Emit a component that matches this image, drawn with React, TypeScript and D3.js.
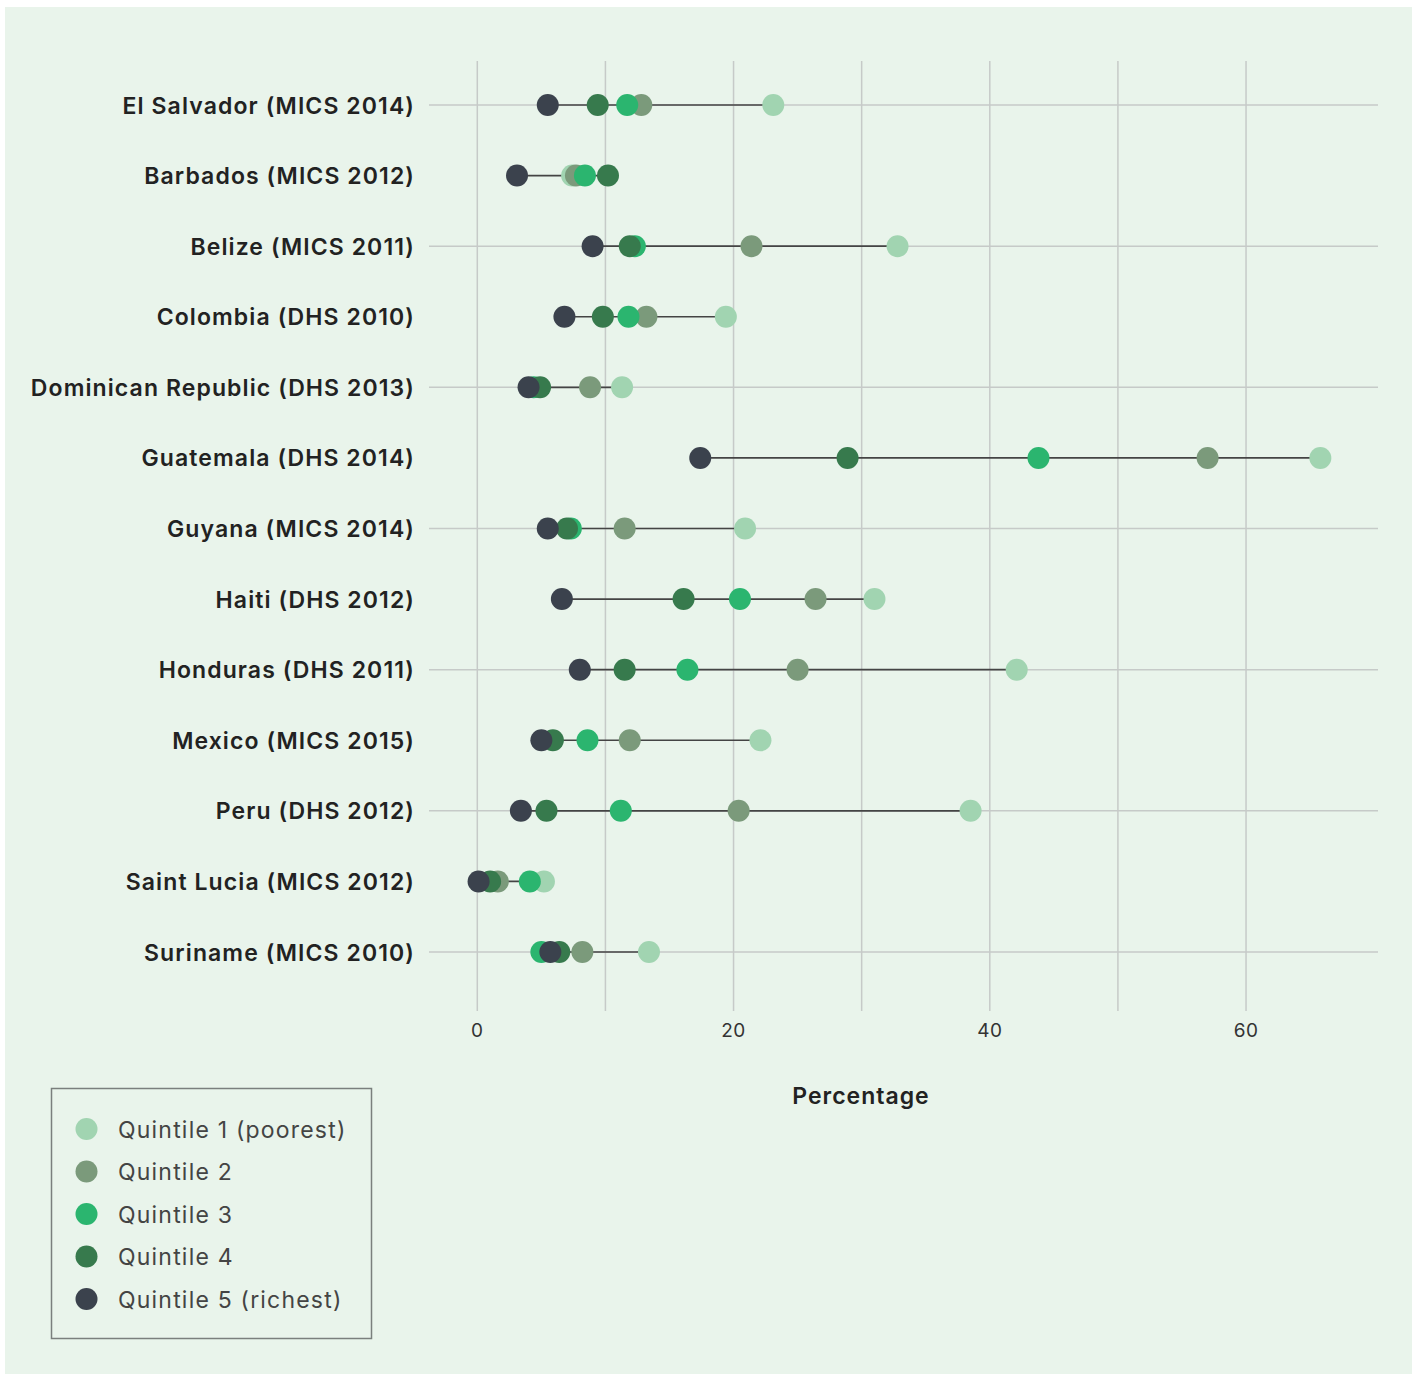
import React from "react";
import * as d3 from "d3";

const countries = [
  "El Salvador (MICS 2014)",
  "Barbados (MICS 2012)",
  "Belize (MICS 2011)",
  "Colombia (DHS 2010)",
  "Dominican Republic (DHS 2013)",
  "Guatemala (DHS 2014)",
  "Guyana (MICS 2014)",
  "Haiti (DHS 2012)",
  "Honduras (DHS 2011)",
  "Mexico (MICS 2015)",
  "Peru (DHS 2012)",
  "Saint Lucia (MICS 2012)",
  "Suriname (MICS 2010)",
];

const quintileNames = [
  "Quintile 1 (poorest)",
  "Quintile 2",
  "Quintile 3",
  "Quintile 4",
  "Quintile 5 (richest)",
];

const quintileColors = ["#a1d4b1", "#7b9a7b", "#2bb56f", "#377a4d", "#3b424d"];

const q1 = [23.1, 7.4, 32.8, 19.4, 11.3, 65.8, 20.9, 31.0, 42.1, 22.1, 38.5, 5.2, 13.4];
const q2 = [12.8, 7.7, 21.4, 13.2, 8.8, 57.0, 11.5, 26.4, 25.0, 11.9, 20.4, 1.6, 8.2];
const q3 = [11.7, 8.4, 12.3, 11.8, 4.4, 43.8, 7.3, 20.5, 16.4, 8.6, 11.2, 4.1, 5.0];
const q4 = [9.4, 10.2, 11.9, 9.8, 4.9, 28.9, 7.0, 16.1, 11.5, 5.9, 5.4, 1.0, 6.4];
const q5 = [5.5, 3.1, 9.0, 6.8, 4.0, 17.4, 5.5, 6.6, 8.0, 5.0, 3.4, 0.1, 5.7];

const xTicks = [0, 20, 40, 60];
const xGrid = [0, 10, 20, 30, 40, 50, 60];
const xTitle = "Percentage";

const series = [q1, q2, q3, q4, q5];

export default function App() {
  const W = 1416;
  const H = 1374;
  const x = d3.scaleLinear().domain([-3.77, 70.3]).range([429, 1378]);
  const y = d3.scalePoint<string>().domain(countries).range([105, 952]);
  const font = "Inter, 'Noto Sans', sans-serif";
  const r = 11;

  return (
    <svg
      width={W}
      height={H}
      style={{ position: "absolute", left: 0, top: 0, display: "block", background: "#ffffff" }}
    >
      <rect x={5} y={7} width={1407} height={1367} fill="#e9f4eb" />
      {xGrid.map((t) => (
        <line key={"vg" + t} x1={x(t)} x2={x(t)} y1={61} y2={1011} stroke="#c6cac8" strokeWidth={1.5} />
      ))}
      {countries.map((c, i) =>
        i % 2 === 0 ? (
          <line key={"hg" + c} x1={x.range()[0]} x2={x.range()[1]} y1={y(c)} y2={y(c)} stroke="#c6cac8" strokeWidth={1.5} />
        ) : null
      )}
      {countries.map((c) => (
        <text
          key={"lab" + c}
          x={415}
          y={(y(c) as number) + 8.5}
          textAnchor="end"
          fontFamily={font}
          fontWeight={600}
          fontSize={23}
          letterSpacing={1.1}
          fill="#222222"
        >
          {c}
        </text>
      ))}
      {countries.map((c, i) => {
        const vals = series.map((s) => s[i]);
        const lo = d3.min(vals) as number;
        const hi = d3.max(vals) as number;
        return (
          <line key={"seg" + c} x1={x(lo)} x2={x(hi)} y1={y(c)} y2={y(c)} stroke="#444444" strokeWidth={1.6} />
        );
      })}
      {series.map((s, qi) => (
        <g key={"q" + qi}>
          {countries.map((c, i) => (
            <circle key={c} cx={x(s[i])} cy={y(c)} r={r} fill={quintileColors[qi]} />
          ))}
        </g>
      ))}
      {xTicks.map((t) => (
        <text key={"xt" + t} x={x(t)} y={1037} textAnchor="middle" fontFamily={font} fontSize={19} letterSpacing={0.5} fill="#333333">
          {t}
        </text>
      ))}
      <text x={861} y={1104} textAnchor="middle" fontFamily={font} fontWeight={600} fontSize={23} letterSpacing={1} fill="#222222">
        {xTitle}
      </text>
      <rect x={51.5} y={1088.5} width={320} height={250} fill="none" stroke="#7a7f7d" strokeWidth={1.5} />
      {quintileNames.map((n, i) => {
        const cy = 1129 + i * 42.5;
        return (
          <g key={"lg" + i}>
            <circle cx={86.5} cy={cy} r={11} fill={quintileColors[i]} />
            <text x={118} y={cy + 8.5} fontFamily={font} fontSize={23} letterSpacing={1.2} fill="#444444">
              {n}
            </text>
          </g>
        );
      })}
    </svg>
  );
}
